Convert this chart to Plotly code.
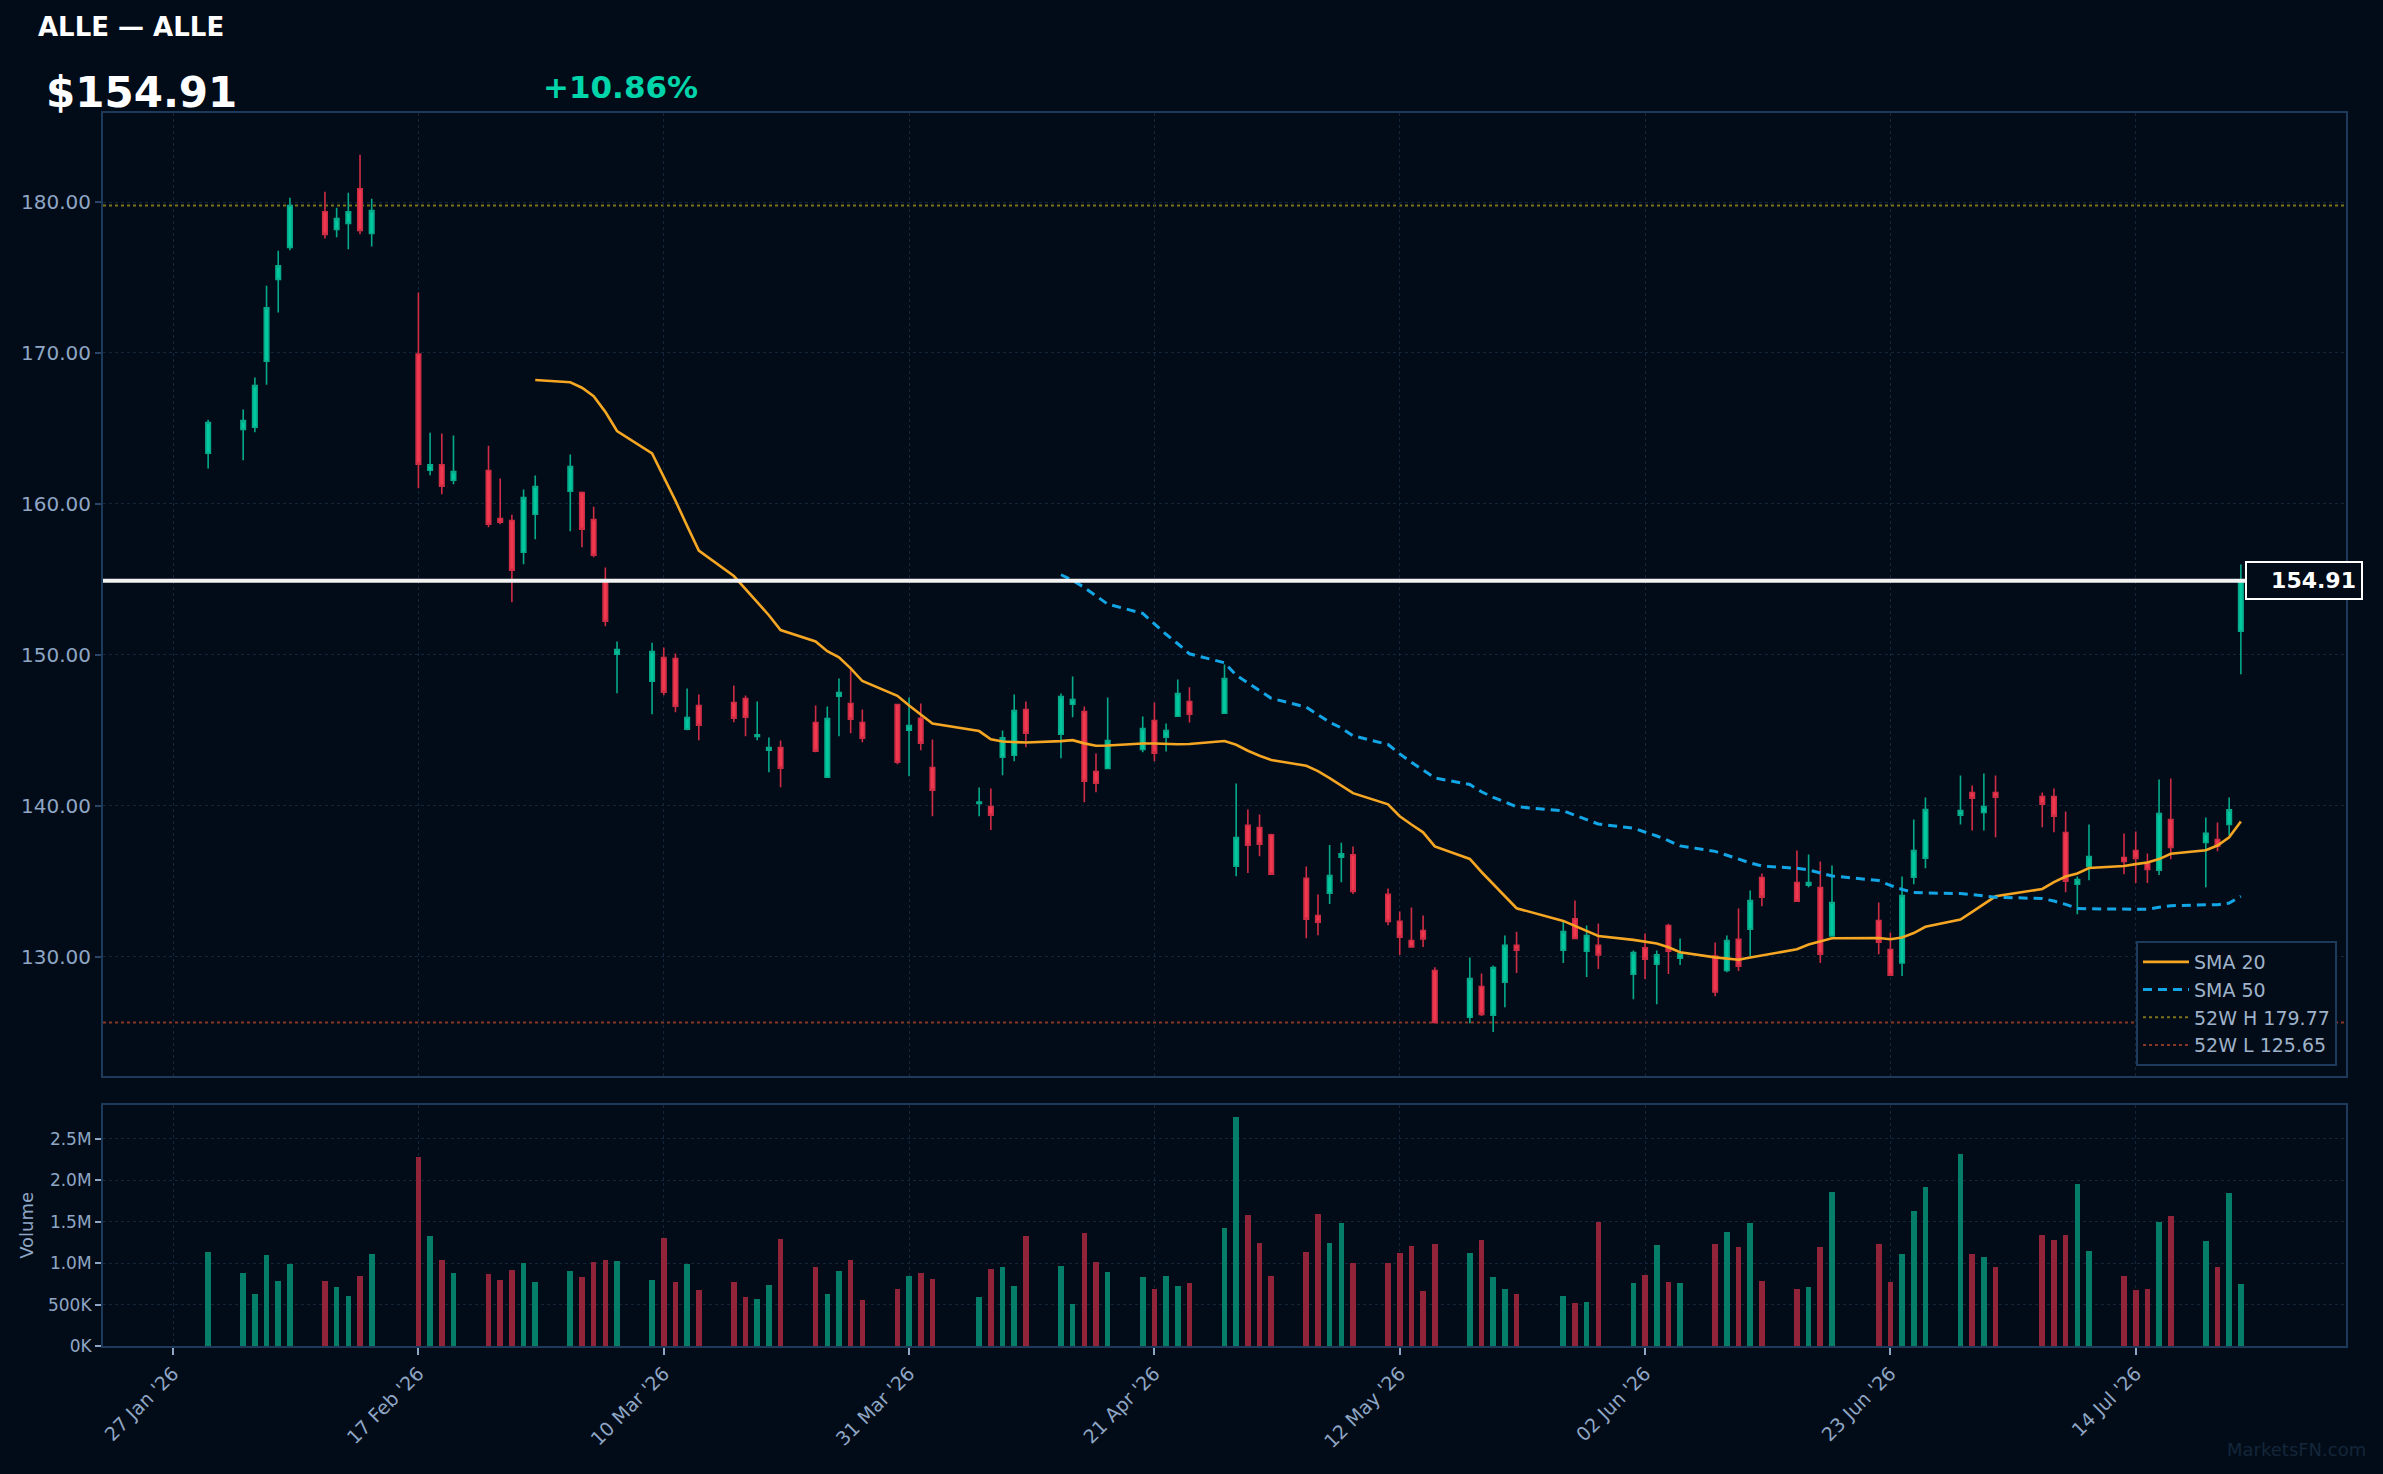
import pandas as pd
import plotly.graph_objects as go

# ---------------- data ----------------
dates = [
    "2026-01-30",
    "2026-02-02", "2026-02-03", "2026-02-04", "2026-02-05", "2026-02-06",
    "2026-02-09", "2026-02-10", "2026-02-11", "2026-02-12", "2026-02-13",
    "2026-02-17", "2026-02-18", "2026-02-19", "2026-02-20",
    "2026-02-23", "2026-02-24", "2026-02-25", "2026-02-26", "2026-02-27",
    "2026-03-02", "2026-03-03", "2026-03-04", "2026-03-05", "2026-03-06",
    "2026-03-09", "2026-03-10", "2026-03-11", "2026-03-12", "2026-03-13",
    "2026-03-16", "2026-03-17", "2026-03-18", "2026-03-19", "2026-03-20",
    "2026-03-23", "2026-03-24", "2026-03-25", "2026-03-26", "2026-03-27",
    "2026-03-30", "2026-03-31", "2026-04-01", "2026-04-02",
    "2026-04-06", "2026-04-07", "2026-04-08", "2026-04-09", "2026-04-10",
    "2026-04-13", "2026-04-14", "2026-04-15", "2026-04-16", "2026-04-17",
    "2026-04-20", "2026-04-21", "2026-04-22", "2026-04-23", "2026-04-24",
    "2026-04-27", "2026-04-28", "2026-04-29", "2026-04-30", "2026-05-01",
    "2026-05-04", "2026-05-05", "2026-05-06", "2026-05-07", "2026-05-08",
    "2026-05-11", "2026-05-12", "2026-05-13", "2026-05-14", "2026-05-15",
    "2026-05-18", "2026-05-19", "2026-05-20", "2026-05-21", "2026-05-22",
    "2026-05-26", "2026-05-27", "2026-05-28", "2026-05-29",
    "2026-06-01", "2026-06-02", "2026-06-03", "2026-06-04", "2026-06-05",
    "2026-06-08", "2026-06-09", "2026-06-10", "2026-06-11", "2026-06-12",
    "2026-06-15", "2026-06-16", "2026-06-17", "2026-06-18",
    "2026-06-22", "2026-06-23", "2026-06-24", "2026-06-25", "2026-06-26",
    "2026-06-29", "2026-06-30", "2026-07-01", "2026-07-02",
    "2026-07-06", "2026-07-07", "2026-07-08", "2026-07-09", "2026-07-10",
    "2026-07-13", "2026-07-14", "2026-07-15", "2026-07-16", "2026-07-17",
    "2026-07-20", "2026-07-21", "2026-07-22", "2026-07-23",
]

opens = [
    163.36,
    164.94, 165.08, 169.45, 174.88, 177.00,
    179.36, 178.19, 178.59, 180.88, 177.92,
    169.93, 162.23, 162.60, 161.57,
    162.21, 159.03, 158.90, 156.80, 159.32,
    160.84, 160.75, 158.96, 154.90, 150.04,
    148.25, 149.82, 149.76, 145.08, 146.64,
    146.84, 147.10, 144.60, 143.68, 143.86,
    145.52, 141.90, 147.26, 146.78, 145.52,
    146.71, 145.01, 145.80, 142.54,
    140.15, 139.95, 143.22, 143.35, 146.38,
    144.74, 146.73, 146.24, 142.27, 142.47,
    143.73, 145.65, 144.55, 145.93, 146.91,
    146.13, 136.00, 138.70, 138.56, 138.08,
    135.19, 132.73, 134.21, 136.60, 136.75,
    134.13, 132.34, 131.08, 131.74, 129.09,
    126.00, 128.03, 126.13, 128.32, 130.75,
    130.44, 132.51, 130.37, 130.75,
    128.85, 130.59, 129.51, 132.07, 129.91,
    130.04, 129.09, 131.15, 131.83, 135.25,
    134.92, 134.74, 134.59, 131.37,
    132.40, 130.48, 129.58, 135.27, 136.53,
    139.38, 140.88, 139.56, 140.88,
    140.61, 140.61, 138.23, 134.81, 135.98,
    136.57, 137.04, 136.24, 135.74, 139.09,
    137.57, 137.77, 138.76, 151.56,
]

highs = [
    165.58,
    166.25, 168.37, 174.46, 176.78, 180.29,
    180.68, 179.62, 180.62, 183.13, 180.22,
    174.00, 164.72, 164.66, 164.53,
    163.86, 161.68, 159.29, 160.95, 161.88,
    163.27, 160.82, 159.82, 155.78, 150.88,
    150.81, 150.48, 150.09, 147.77, 147.37,
    147.97, 147.30, 146.91, 144.52, 144.32,
    146.64, 146.58, 148.43, 148.98, 146.38,
    146.75, 147.17, 146.77, 144.39,
    141.21, 141.14, 144.99, 147.37, 146.91,
    147.44, 148.56, 146.58, 143.46, 147.17,
    145.91, 146.84, 145.45, 148.36, 147.85,
    149.36, 141.48, 139.75, 139.42, 138.14,
    135.98, 134.13, 137.41, 137.55, 137.30,
    134.52, 133.00, 133.26, 132.73, 129.30,
    129.95, 128.89, 129.42, 131.41, 131.65,
    132.32, 133.73, 132.07, 132.20,
    130.42, 131.54, 130.42, 132.18, 131.21,
    130.95, 131.41, 133.20, 134.39, 135.52,
    137.04, 136.77, 136.31, 136.05,
    133.59, 131.61, 135.32, 139.09, 140.55,
    142.00, 141.34, 142.14, 142.00,
    140.88, 141.14, 139.62, 135.32, 138.76,
    138.17, 138.30, 136.84, 141.74, 141.81,
    139.22, 138.89, 140.55, 155.98,
]

lows = [
    162.34,
    162.89, 164.75, 167.90, 172.69, 176.80,
    177.59, 177.66, 176.87, 177.86, 177.06,
    161.04, 161.90, 160.64, 161.30,
    158.45, 158.65, 153.49, 156.00, 157.66,
    158.19, 157.13, 156.47, 151.90, 147.46,
    146.07, 147.33, 146.20, 145.01, 144.35,
    145.54, 144.61, 144.35, 142.23, 141.23,
    143.55, 141.90, 144.61, 144.81, 144.21,
    142.76, 141.96, 143.68, 139.31,
    139.31, 138.39, 142.03, 142.95, 143.88,
    143.15, 145.87, 140.24, 140.90, 142.47,
    143.55, 142.95, 143.60, 145.93, 145.52,
    146.13, 135.34, 135.54, 136.66, 135.47,
    131.23, 131.43, 133.49, 134.94, 134.15,
    132.09, 130.11, 130.64, 130.64, 125.58,
    125.60, 126.07, 125.01, 126.66, 128.92,
    129.58, 131.17, 128.65, 129.18,
    127.19, 128.52, 126.86, 128.85, 129.45,
    127.39, 128.98, 129.05, 130.04, 133.35,
    133.68, 134.61, 129.58, 131.37,
    130.17, 128.78, 128.72, 134.81, 135.87,
    138.76, 138.36, 138.36, 137.92,
    138.58, 138.25, 134.28, 132.82, 135.07,
    135.47, 134.88, 134.88, 135.41, 136.46,
    134.61, 136.99, 138.05, 148.72,
]

closes = [
    165.39,
    165.52, 167.84, 173.00, 175.78, 179.77,
    177.86, 178.90, 179.36, 178.12, 179.43,
    162.63, 162.60, 161.17, 162.14,
    158.65, 158.79, 155.61, 160.42, 161.15,
    162.47, 158.32, 156.60, 152.23, 150.35,
    150.22, 147.53, 146.60, 145.85, 145.34,
    145.80, 145.87, 144.70, 143.86, 142.49,
    143.62, 145.78, 147.50, 145.74, 144.48,
    142.89, 145.32, 144.15, 141.03,
    140.25, 139.38, 144.50, 146.31, 144.81,
    147.24, 147.04, 141.63, 141.50, 144.32,
    145.12, 143.49, 144.99, 147.44, 146.07,
    148.43, 137.90, 137.39, 137.46, 135.47,
    132.49, 132.29, 135.38, 136.82, 134.32,
    132.34, 131.30, 130.64, 131.17, 125.65,
    128.56, 126.18, 129.29, 130.75, 130.44,
    131.67, 131.21, 131.41, 130.11,
    130.28, 129.84, 130.13, 130.37, 130.20,
    127.66, 131.08, 129.38, 133.73, 133.95,
    133.68, 134.92, 130.17, 133.59,
    130.97, 128.78, 134.06, 137.04, 139.75,
    139.69, 140.50, 139.95, 140.57,
    140.11, 139.31, 135.01, 135.12, 136.64,
    136.31, 136.51, 135.78, 139.49, 137.24,
    138.17, 137.33, 139.73, 154.91,
]

volumes = [
    1141000,
    891000, 637000, 1097000, 794000, 988000,
    794000, 722000, 613000, 855000, 1109000,
    2282000, 1327000, 1044000, 891000,
    879000, 806000, 927000, 1012000, 782000,
    915000, 831000, 1024000, 1048000, 1036000,
    806000, 1302000, 782000, 988000, 685000,
    782000, 601000, 577000, 746000, 1290000,
    960000, 630000, 910000, 1040000, 560000,
    690000, 850000, 890000, 810000,
    590000, 930000, 952000, 734000, 1327000,
    964000, 516000, 1363000, 1024000, 903000,
    831000, 698000, 855000, 734000, 770000,
    1423000, 2766000, 1581000, 1242000, 855000,
    1133000, 1593000, 1242000, 1484000, 1000000,
    1012000, 1121000, 1206000, 673000, 1230000,
    1121000, 1278000, 831000, 698000, 637000,
    613000, 528000, 540000, 1496000,
    770000, 867000, 1218000, 782000, 770000,
    1230000, 1375000, 1194000, 1484000, 794000,
    698000, 722000, 1194000, 1859000,
    1230000, 782000, 1109000, 1629000, 1919000,
    2319000, 1109000, 1073000, 952000,
    1339000, 1278000, 1339000, 1956000, 1145000,
    843000, 685000, 698000, 1496000, 1569000,
    1266000, 952000, 1847000, 758000,
]

ticker = "ALLE"
last_price = 154.91
pct_change = 10.86
high_52w = 179.77
low_52w = 125.65

x_range = ["2026-01-21", "2026-08-01"]
xtick_dates = ["2026-01-27", "2026-02-17", "2026-03-10", "2026-03-31", "2026-04-21",
               "2026-05-12", "2026-06-02", "2026-06-23", "2026-07-14"]
xtick_labels = ["27 Jan '26", "17 Feb '26", "10 Mar '26", "31 Mar '26", "21 Apr '26",
                "12 May '26", "02 Jun '26", "23 Jun '26", "14 Jul '26"]
price_ticks = [130, 140, 150, 160, 170, 180]
price_tick_labels = ["130.00", "140.00", "150.00", "160.00", "170.00", "180.00"]
price_range = [122.1, 185.9]
vol_ticks = [0, 500000, 1000000, 1500000, 2000000, 2500000]
vol_tick_labels = ["0K", "500K", "1.0M", "1.5M", "2.0M", "2.5M"]
vol_range = [0, 2914000]

# ---------------- derived ----------------
df = pd.DataFrame({"date": pd.to_datetime(dates), "open": opens, "high": highs,
                   "low": lows, "close": closes, "volume": volumes})
df["sma20"] = df["close"].rolling(20).mean()
df["sma50"] = df["close"].rolling(50).mean()

BG = "#020c18"
BORDER = "#1e3a5a"
GRID = "#15263a"
TICK = "#8fa6c4"
UP = "#00c9a0"
UP_LINE = "#06a98a"
DN = "#f0384f"
DN_LINE = "#cf2d45"
UP_VOL = "#047e68"
DN_VOL = "#922439"
FONT = "DejaVu Sans"

vol_colors = [UP_VOL if c >= o else DN_VOL for o, c in zip(opens, closes)]

fig = go.Figure()

fig.add_trace(go.Candlestick(
    x=df["date"], open=df["open"], high=df["high"], low=df["low"], close=df["close"],
    increasing=dict(line=dict(color=UP_LINE, width=1.6), fillcolor=UP),
    decreasing=dict(line=dict(color=DN_LINE, width=1.6), fillcolor=DN),
    whiskerwidth=0, showlegend=False, xaxis="x", yaxis="y", name=ticker,
))

fig.add_trace(go.Scatter(
    x=df["date"], y=df["sma20"], mode="lines", name="SMA 20",
    line=dict(color="#f5a623", width=2.6), xaxis="x", yaxis="y",
))
fig.add_trace(go.Scatter(
    x=df["date"], y=df["sma50"], mode="lines", name="SMA 50",
    line=dict(color="#13a6e6", width=3, dash="9px,6px"), xaxis="x", yaxis="y",
))
fig.add_trace(go.Scatter(
    x=[None], y=[None], mode="lines", name=f"52W H {high_52w:.2f}",
    line=dict(color="#7d7218", width=2, dash="dot"), xaxis="x", yaxis="y",
))
fig.add_trace(go.Scatter(
    x=[None], y=[None], mode="lines", name=f"52W L {low_52w:.2f}",
    line=dict(color="#8a3826", width=2, dash="dot"), xaxis="x", yaxis="y",
))

fig.add_trace(go.Bar(
    x=df["date"], y=df["volume"], marker=dict(color=vol_colors, line=dict(width=0)),
    width=0.48 * 86400000, showlegend=False, xaxis="x2", yaxis="y2", name="Volume",
))

# horizontal reference lines
fig.add_shape(type="line", xref="x domain", yref="y", x0=0, x1=1, y0=high_52w, y1=high_52w,
              line=dict(color="#7d7218", width=2, dash="dot"), layer="below")
fig.add_shape(type="line", xref="x domain", yref="y", x0=0, x1=1, y0=low_52w, y1=low_52w,
              line=dict(color="#8a3826", width=2, dash="dot"), layer="below")
fig.add_shape(type="line", xref="x domain", yref="y", x0=0, x1=1, y0=last_price, y1=last_price,
              line=dict(color="#f2f2f2", width=4), layer="above")

W, H = 2383, 1474
ML, MR, MT, MB = 103, 37, 113, 128
PW, PH = W - ML - MR, H - MT - MB


def px(x):
    return (x - ML) / PW


def py(y):
    return (H - MB - y) / PH


annotations = [
    dict(text=f"<b>{ticker} — {ticker}</b>", x=px(36), y=py(27), xref="paper", yref="paper",
         xanchor="left", yanchor="middle", showarrow=False,
         font=dict(family=FONT, size=26, color="#ffffff")),
    dict(text=f"<b>${last_price:.2f}</b>", x=px(44), y=py(93), xref="paper", yref="paper",
         xanchor="left", yanchor="middle", showarrow=False,
         font=dict(family=FONT, size=42, color="#ffffff")),
    dict(text=f"<b>+{pct_change:.2f}%</b>", x=px(541), y=py(87.5), xref="paper", yref="paper",
         xanchor="left", yanchor="middle", showarrow=False,
         font=dict(family=FONT, size=31, color="#00d4aa")),
    dict(text=f"<b>{last_price:.2f}</b>", x=px(2363), y=last_price, xref="paper", yref="y",
         xanchor="right", yanchor="middle", showarrow=False, align="right", width=104,
         bgcolor=BG, bordercolor="#ffffff", borderwidth=2, borderpad=5,
         font=dict(family=FONT, size=22, color="#ffffff")),
    dict(text="MarketsFN.com", x=px(2368), y=py(1449), xref="paper", yref="paper",
         xanchor="right", yanchor="middle", showarrow=False,
         font=dict(family=FONT, size=18, color="#14263a")),
]

axis_common = dict(showline=True, linecolor=BORDER, linewidth=2, mirror=True,
                   showgrid=True, gridcolor=GRID, griddash="dot", gridwidth=1,
                   zeroline=False)

fig.update_layout(
    width=W, height=H,
    paper_bgcolor=BG, plot_bgcolor=BG,
    margin=dict(l=ML, r=MR, t=MT, b=MB),
    font=dict(family=FONT, color=TICK),
    boxgap=0.45,
    bargap=0,
    showlegend=True,
    legend=dict(x=px(2337), xanchor="right", y=py(1066), yanchor="bottom",
                bgcolor=BG, bordercolor=BORDER, borderwidth=2,
                font=dict(family=FONT, size=19, color="#9fb2c9"),
                itemwidth=46, tracegroupgap=0),
    xaxis=dict(domain=[0, 1], anchor="y", range=x_range, type="date",
               tickvals=xtick_dates, ticktext=xtick_labels, showticklabels=False,
               ticks="", rangeslider=dict(visible=False), matches="x2", **axis_common),
    yaxis=dict(domain=[0.219, 1], anchor="x", range=price_range,
               tickvals=price_ticks, ticktext=price_tick_labels,
               ticks="outside", ticklen=6, tickcolor="#2a4565", tickwidth=2,
               tickfont=dict(family=FONT, size=20, color=TICK), **axis_common),
    xaxis2=dict(domain=[0, 1], anchor="y2", range=x_range, type="date",
                tickvals=xtick_dates, ticktext=xtick_labels, tickangle=-45,
                ticks="outside", ticklen=7, tickcolor=TICK, tickwidth=2,
                tickfont=dict(family=FONT, size=19, color=TICK), **axis_common),
    yaxis2=dict(domain=[0, 0.1957], anchor="x2", range=vol_range,
                tickvals=vol_ticks, ticktext=vol_tick_labels,
                ticks="outside", ticklen=6, tickcolor=TICK, tickwidth=2,
                tickfont=dict(family=FONT, size=17, color=TICK),
                title=dict(text="Volume", font=dict(family=FONT, size=18, color=TICK), standoff=10),
                **axis_common),
    annotations=annotations,
)

fig.write_html("out.html")
